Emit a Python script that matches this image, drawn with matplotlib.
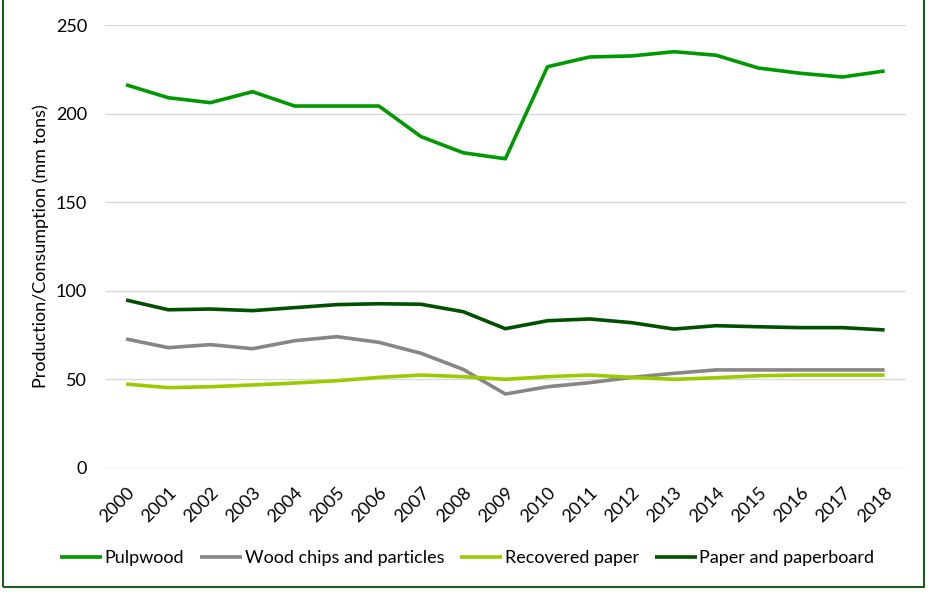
import matplotlib
matplotlib.use('Agg')
import matplotlib.pyplot as plt
from matplotlib.patches import Rectangle

plt.rcParams['font.family'] = ['Lato', 'DejaVu Sans']

years = [str(y) for y in range(2000, 2019)]

# values (mm tons)
pulpwood = [216.4, 209.1, 206.3, 212.5, 204.4, 204.4, 204.4, 187.1, 178.0, 174.6,
            226.6, 232.1, 232.7, 235.1, 233.1, 225.9, 222.9, 220.8, 224.2]
wood_chips = [72.8, 67.9, 69.6, 67.3, 71.8, 74.1, 70.9, 64.7, 55.6, 41.7,
              45.8, 48.1, 51.1, 53.4, 55.3, 55.3, 55.3, 55.3, 55.3]
recovered = [47.3, 45.3, 45.8, 46.8, 47.9, 49.2, 51.1, 52.4, 51.5, 50.0,
             51.5, 52.4, 51.1, 50.0, 50.9, 52.0, 52.4, 52.4, 52.4]
paperboard = [94.8, 89.3, 89.7, 88.8, 90.5, 92.2, 92.7, 92.4, 88.2, 78.6,
              83.1, 84.1, 82.0, 78.4, 80.3, 79.7, 79.2, 79.2, 77.9]

series = [
    ('Pulpwood', pulpwood, '#009900'),
    ('Wood chips and particles', wood_chips, '#868686'),
    ('Recovered paper', recovered, '#99CC00'),
    ('Paper and paperboard', paperboard, '#005000'),
]

fs = 13

fig = plt.figure(figsize=(9.31, 5.93), dpi=100)
ax = fig.add_axes([0.1128, 0.2111, 0.86, 0.7462])

x = range(len(years))
for name, vals, col in series:
    ax.plot(x, vals, color=col, linewidth=2.6, label=name, solid_capstyle='butt')

ax.set_ylim(0, 250)
ax.set_yticks([0, 50, 100, 150, 200, 250])
ax.set_xlim(-0.5, len(years) - 0.5)
ax.set_xticks(list(x))
ax.set_xticklabels(years, rotation=45, ha='right', va='top', rotation_mode='anchor')
ax.tick_params(axis='both', length=0, labelsize=fs, colors='black')
ax.tick_params(axis='x', pad=12)
ax.tick_params(axis='y', pad=13)

ax.grid(axis='y', color='#d9d9d9', linewidth=1)
ax.set_axisbelow(True)
for s in ax.spines.values():
    s.set_visible(False)

ax.set_ylabel('Production/Consumption (mm tons)', fontsize=fs, labelpad=5)

fig.legend(loc='center', bbox_to_anchor=(0.502, 0.059), ncol=4, frameon=False,
           fontsize=fs, handlelength=2.3, handletextpad=0.15, columnspacing=0.9)

# outer chart border
fig.patches.append(Rectangle((0.003, 0.01), 0.99, 0.995, transform=fig.transFigure,
                             fill=False, edgecolor='#1f5a1f', linewidth=1.5))

fig.savefig('out.png', dpi=100)
